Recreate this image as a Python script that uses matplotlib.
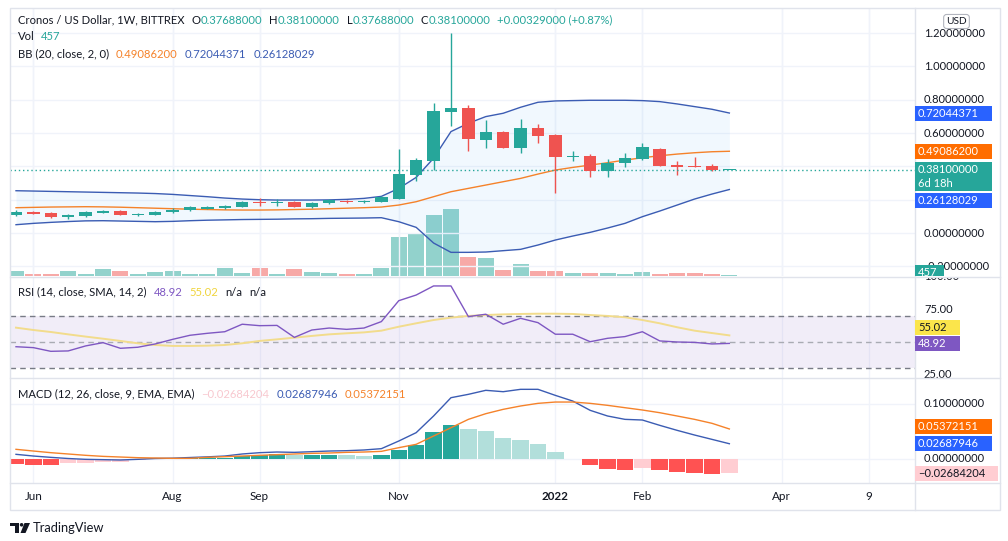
import matplotlib.pyplot as plt
import matplotlib.transforms as mtransforms
from matplotlib.patches import Rectangle, Polygon, Circle
from matplotlib.lines import Line2D

plt.rcParams['font.family'] = ['Lato', 'DejaVu Sans']

W, H = 1008, 541

# weekly bars, the first one is the week of 2021-05-31
opens = [0.110, 0.126, 0.120, 0.098, 0.102, 0.122, 0.134, 0.110, 0.110, 0.124,
         0.136, 0.146, 0.152, 0.158, 0.184, 0.180, 0.188, 0.158, 0.178, 0.194,
         0.184, 0.188, 0.204, 0.348, 0.434, 0.729, 0.751, 0.560, 0.607, 0.512,
         0.631, 0.587, 0.456, 0.462, 0.374, 0.422, 0.444, 0.505, 0.410, 0.404,
         0.402, 0.37688]
highs = [0.138, 0.132, 0.124, 0.114, 0.132, 0.136, 0.138, 0.118, 0.134, 0.148,
         0.160, 0.162, 0.168, 0.192, 0.212, 0.204, 0.192, 0.186, 0.204, 0.198,
         0.198, 0.222, 0.503, 0.452, 0.783, 1.203, 0.767, 0.679, 0.612, 0.685,
         0.655, 0.592, 0.492, 0.474, 0.444, 0.482, 0.542, 0.510, 0.432, 0.455,
         0.416, 0.381]
lows = [0.102, 0.112, 0.092, 0.082, 0.096, 0.118, 0.106, 0.102, 0.106, 0.118,
        0.130, 0.142, 0.146, 0.154, 0.162, 0.164, 0.154, 0.148, 0.172, 0.180,
        0.180, 0.184, 0.204, 0.314, 0.378, 0.643, 0.491, 0.512, 0.510, 0.482,
        0.542, 0.242, 0.434, 0.334, 0.338, 0.398, 0.440, 0.400, 0.348, 0.398,
        0.372, 0.37688]
closes = [0.128, 0.116, 0.098, 0.108, 0.126, 0.132, 0.110, 0.114, 0.126, 0.140,
          0.154, 0.158, 0.164, 0.186, 0.180, 0.186, 0.158, 0.178, 0.196, 0.184,
          0.194, 0.214, 0.354, 0.438, 0.733, 0.753, 0.563, 0.607, 0.512, 0.631,
          0.584, 0.458, 0.464, 0.374, 0.422, 0.450, 0.516, 0.404, 0.398, 0.398,
          0.3777, 0.381]
volumes = [2300, 900, 1000, 2200, 900, 3200, 2300, 900, 1800, 2300,
           900, 900, 3700, 1400, 3700, 900, 3200, 1800, 1400, 900,
           900, 3700, 17800, 19700, 27900, 30600, 8700, 8200, 2700, 5500,
           2300, 2300, 1400, 1400, 1400, 900, 1800, 900, 1400, 1400,
           900, 457]
bb_basis = [0.152, 0.154, 0.156, 0.157, 0.158, 0.157, 0.155, 0.152, 0.149, 0.146,
            0.143, 0.141, 0.139, 0.138, 0.138, 0.139, 0.141, 0.143, 0.146, 0.149,
            0.152, 0.156, 0.168, 0.188, 0.218, 0.248, 0.268, 0.288, 0.308, 0.328,
            0.354, 0.378, 0.394, 0.408, 0.422, 0.438, 0.452, 0.464, 0.474, 0.482,
            0.488, 0.490862]
bb_upper = [0.254, 0.252, 0.250, 0.248, 0.246, 0.244, 0.242, 0.240, 0.237, 0.232,
            0.225, 0.218, 0.210, 0.204, 0.200, 0.198, 0.198, 0.198, 0.199, 0.202,
            0.208, 0.220, 0.268, 0.334, 0.449, 0.609, 0.659, 0.699, 0.719, 0.755,
            0.785, 0.793, 0.795, 0.797, 0.797, 0.797, 0.795, 0.789, 0.775, 0.759,
            0.743, 0.72044371]
bb_lower = [0.050, 0.058, 0.064, 0.069, 0.073, 0.074, 0.072, 0.070, 0.068, 0.070,
            0.074, 0.077, 0.079, 0.081, 0.082, 0.083, 0.085, 0.086, 0.088, 0.089,
            0.090, 0.092, 0.068, 0.034, -0.060, -0.116, -0.116, -0.114, -0.106, -0.098,
            -0.072, -0.042, -0.018, 0.004, 0.030, 0.058, 0.098, 0.132, 0.168, 0.204,
            0.234, 0.26128029]
rsi = [46.4, 45.7, 42.9, 43.2, 47.0, 49.5, 45.2, 46.0, 48.5, 52.0,
       55.1, 56.6, 57.8, 63.5, 62.4, 62.6, 53.5, 59.1, 60.6, 59.6,
       60.6, 65.5, 81.4, 85.7, 92.6, 92.6, 69.3, 71.1, 63.5, 68.0,
       64.7, 55.9, 55.9, 50.2, 52.8, 54.1, 57.8, 50.8, 50.0, 49.7,
       48.5, 48.92]
rsi_ma = [60.9, 59.1, 57.6, 55.8, 54.1, 52.5, 50.8, 49.0, 47.7, 47.0,
          47.0, 47.2, 47.7, 49.0, 50.8, 52.0, 53.3, 54.6, 55.8, 56.6,
          57.3, 58.6, 61.6, 64.2, 66.7, 68.5, 69.8, 70.5, 71.0, 71.3,
          71.5, 71.5, 71.3, 70.5, 69.8, 68.8, 66.7, 64.2, 61.2, 58.6,
          56.8, 55.02]
macd = [0.0076, 0.0045, 0.0021, 0.0000, -0.0015, -0.0021, -0.0027, -0.0015, 0.0000, 0.0006,
        0.0018, 0.0030, 0.0045, 0.0082, 0.0106, 0.0118, 0.0112, 0.0124, 0.0136, 0.0142,
        0.0155, 0.0179, 0.0318, 0.0470, 0.0773, 0.1106, 0.1167, 0.1240, 0.1215, 0.1258,
        0.1258, 0.1148, 0.1045, 0.0876, 0.0773, 0.0712, 0.0700, 0.0603, 0.0512, 0.0427,
        0.0348, 0.02687946]
signal = [0.0167, 0.0136, 0.0106, 0.0082, 0.0058, 0.0039, 0.0027, 0.0015, 0.0009, 0.0003,
          0.0003, 0.0021, 0.0033, 0.0045, 0.0058, 0.0070, 0.0082, 0.0094, 0.0100, 0.0112,
          0.0118, 0.0130, 0.0197, 0.0258, 0.0409, 0.0560, 0.0712, 0.0815, 0.0894, 0.0955,
          0.1003, 0.1027, 0.1027, 0.1003, 0.0967, 0.0924, 0.0882, 0.0833, 0.0773, 0.0712,
          0.0640, 0.05372151]
hist = [-0.0100, -0.0110, -0.0120, -0.0090, -0.0080, -0.0070, -0.0060, -0.0030, -0.0010, 0.0002,
        0.0006, 0.0010, 0.0018, 0.0045, 0.0060, 0.0075, 0.0062, 0.0068, 0.0072, 0.0058,
        0.0052, 0.0065, 0.0152, 0.0242, 0.0479, 0.0618, 0.0545, 0.0497, 0.0376, 0.0333,
        0.0255, 0.0115, 0.0000, -0.0127, -0.0182, -0.0206, -0.0170, -0.0206, -0.0242, -0.0260,
        -0.0279, -0.02684204]

time_ticks = [1, 9, 14, 22, 31, 36, 44, 49]
time_labels = ['Jun', 'Aug', 'Sep', 'Nov', '2022', 'Feb', 'Apr', '9']
price_grid = [1.2, 1.0, 0.8, 0.6, 0.4, 0.2, 0.0, -0.2]
price_ticks = [1.2, 1.0, 0.8, 0.6, 0.0, -0.2]
rsi_ticks = [100, 75, 25]
macd_ticks = [0.1, 0.0]

TEXT = '#131722'
GRID = '#f0f3fa'
BORDER = '#e0e3eb'
UP, DOWN = '#26a69a', '#ef5350'
VOL_UP, VOL_DOWN = '#92d2cc', '#f7a9a7'
BB_BLUE, BB_ORANGE = '#3b5cb3', '#f5822a'
BOX_BLUE, BOX_ORANGE = '#2962ff', '#ff6d00'
RSI_C, RSI_MA_C = '#7e57c2', '#f2dc8c'
H_UP, H_UP_FADE, H_DN, H_DN_FADE = '#26a69a', '#b2dfdb', '#ff5252', '#ffcdd2'

X_LEFT, X_SPLIT, X_RIGHT = 10, 915, 1000
XLIM = (-0.345, 51.67)
n = len(closes)
x = list(range(n))

fig = plt.figure(figsize=(W / 100, H / 100), dpi=100)
fig.patch.set_facecolor('white')
PIX = mtransforms.IdentityTransform()


def fig_rect(x0, x1, top, bottom):
    return [x0 / W, 1 - bottom / H, (x1 - x0) / W, (bottom - top) / H]


def pane(top, bottom, ylim):
    ax = fig.add_axes(fig_rect(X_LEFT, X_SPLIT, top, bottom))
    ax.set_xlim(XLIM)
    ax.set_ylim(ylim)
    ax.patch.set_alpha(0)
    for s in ax.spines.values():
        s.set_visible(False)
    ax.set_xticks([])
    ax.set_yticks([])
    return ax


def scale(top, bottom, ylim):
    sax = fig.add_axes(fig_rect(X_SPLIT, X_RIGHT, top, bottom))
    sax.set_xlim(0, 1)
    sax.set_ylim(ylim)
    sax.axis('off')
    return sax


def tick_labels(sax, ticks, fmt):
    for t in ticks:
        sax.text(0.106, t, fmt % t, fontsize=8, color=TEXT, va='center',
                 ha='left', clip_on=True, zorder=2)


def value_box(sax, value, lines, fc, tc, width, dy=0, ref=None):
    # dy: shift in pixels, positive = down (TradingView pushes overlapping labels)
    ypix = (ref or sax).transData.transform((0, value))[1] - dy
    h = 15 + 14 * (len(lines) - 1)
    box = Rectangle((914, ypix + 7.5 - h), width, h, transform=PIX,
                    fc=fc, ec='none', zorder=5)
    box.set_clip_box(sax.bbox)
    fig.add_artist(box)
    for k, s in enumerate(lines):
        t = fig.text(918, ypix - 14 * k, s, transform=PIX, fontsize=8,
                     color=tc, va='center', ha='left', zorder=6)
        t.set_clip_box(sax.bbox)
        t.set_clip_on(True)


def legend_row(xpix, ypix, parts, size=8.1):
    r = fig.canvas.get_renderer()
    for s, c, gap in parts:
        xpix += gap
        t = fig.text(xpix, ypix, s, transform=PIX, fontsize=size, color=c,
                     va='center', ha='left', zorder=10)
        xpix += t.get_window_extent(renderer=r).width


# ---------------- main pane: volume + candles + BB ----------------
MAIN = (8, 276)
PRICE_LIM = (-0.258, 1.351)
VOL_LIM = (0, 121900)
vax = pane(*MAIN, VOL_LIM)
vcol = [VOL_UP if c >= o else VOL_DOWN for o, c in zip(opens, closes)]
vax.bar(x, volumes, width=0.92, color=vcol, zorder=1)

ax = pane(*MAIN, PRICE_LIM)
for g in price_grid:
    ax.axhline(g, color=GRID, lw=1, zorder=0)
for t in time_ticks:
    ax.axvline(t, color=GRID, lw=1, zorder=0)
    vax.axvline(t, color=GRID, lw=1, zorder=0)

ax.fill_between(x, bb_lower, bb_upper, color='#2196f3', alpha=0.06, lw=0, zorder=1)
ax.plot(x, bb_upper, color=BB_BLUE, lw=1, zorder=2)
ax.plot(x, bb_lower, color=BB_BLUE, lw=1, zorder=2)
ax.plot(x, bb_basis, color=BB_ORANGE, lw=1, zorder=2)

ccol = [UP if c >= o else DOWN for o, c in zip(opens, closes)]
ax.vlines(x, lows, highs, colors=ccol, lw=1, zorder=3)
body_lo = [min(o, c) for o, c in zip(opens, closes)]
body_h = [max(abs(c - o), 0.005) for o, c in zip(opens, closes)]
ax.bar(x, body_h, bottom=body_lo, width=0.72, color=ccol, zorder=4)
ax.axhline(closes[-1], color=UP, lw=1, ls=(0, (1, 2)), zorder=3)

sax = scale(*MAIN, PRICE_LIM)
tick_labels(sax, price_ticks, '%.8f')
value_box(sax, bb_upper[-1], ['%.8f' % bb_upper[-1]], BOX_BLUE, 'white', 78)
value_box(sax, bb_basis[-1], ['%.8f' % bb_basis[-1]], BOX_ORANGE, 'white', 78)
value_box(sax, closes[-1], ['%.8f' % closes[-1], '6d 18h'], UP, 'white', 78)
value_box(sax, bb_lower[-1], ['%.8f' % bb_lower[-1]], BOX_BLUE, 'white', 78, dy=11)
value_box(sax, volumes[-1], ['%d' % volumes[-1]], UP, 'white', 30, dy=-2, ref=vax)

# USD badge
fig.text(956.5, H - 21.5, 'USD', transform=PIX, fontsize=7.3, color=TEXT,
         ha='center', va='center', zorder=12,
         bbox=dict(boxstyle='round,pad=0.25,rounding_size=0.3', fc='white',
                   ec='#b2b5be', lw=0.8))

# ---------------- RSI pane ----------------
RSI_P = (277, 377.5)
RSI_LIM = (23.0, 99.4)
axr = pane(*RSI_P, RSI_LIM)
for t in time_ticks:
    axr.axvline(t, color=GRID, lw=1, zorder=0)
axr.axhspan(30, 70, color=RSI_C, alpha=0.1, lw=0, zorder=0)
axr.axhline(70, color='#787b86', lw=1, ls=(0, (4, 3)), zorder=1)
axr.axhline(30, color='#787b86', lw=1, ls=(0, (4, 3)), zorder=1)
axr.axhline(50, color='#a9abb3', lw=1, ls=(0, (4, 3)), zorder=1)
axr.plot(x, rsi_ma, color=RSI_MA_C, lw=1.4, zorder=2)
axr.plot(x, rsi, color=RSI_C, lw=1, zorder=3)

srsi = scale(*RSI_P, RSI_LIM)
tick_labels(srsi, rsi_ticks, '%.2f')
value_box(srsi, rsi_ma[-1], ['%.2f' % rsi_ma[-1]], '#fbe54b', TEXT, 46, dy=-8)
value_box(srsi, rsi[-1], ['%.2f' % rsi[-1]], RSI_C, 'white', 46)

# ---------------- MACD pane ----------------
MACD_P = (378.5, 482.7)
MACD_LIM = (-0.044, 0.1455)
axm = pane(*MACD_P, MACD_LIM)
for t in time_ticks:
    axm.axvline(t, color=GRID, lw=1, zorder=0)
for g in macd_ticks:
    axm.axhline(g, color=GRID, lw=1, zorder=0)
hcol = []
prev = None
for v in hist:
    if v >= 0:
        hcol.append(H_UP if prev is None or v >= prev else H_UP_FADE)
    else:
        hcol.append(H_DN if prev is None or v <= prev else H_DN_FADE)
    prev = v
axm.bar(x, hist, width=0.95, color=hcol, zorder=1)
axm.plot(x, macd, color=BB_BLUE, lw=1, zorder=2)
axm.plot(x, signal, color=BB_ORANGE, lw=1, zorder=2)

smacd = scale(*MACD_P, MACD_LIM)
tick_labels(smacd, macd_ticks, '%.8f')
value_box(smacd, signal[-1], ['%.8f' % signal[-1]], BOX_ORANGE, 'white', 78, dy=-2)
value_box(smacd, macd[-1], ['%.8f' % macd[-1]], BOX_BLUE, 'white', 78)
value_box(smacd, hist[-1], ['\u2212%.8f' % abs(hist[-1])], H_DN_FADE, TEXT, 84)

# ---------------- time axis ----------------
axt = pane(483.5, 509.5, (0, 1))
for t, lab in zip(time_ticks, time_labels):
    axt.text(t, 0.5, lab, ha='center', va='center', fontsize=8.4, color=TEXT,
             fontweight='bold' if lab == '2022' else 'normal')

# pane separators and outer frame
for yy in (276.5, 378, 483):
    fig.add_artist(Line2D([X_LEFT, X_RIGHT], [H - yy, H - yy], transform=PIX,
                          color=BORDER, lw=1))
fig.add_artist(Line2D([X_SPLIT, X_SPLIT], [H - 8, H - 509.5], transform=PIX,
                      color=BORDER, lw=1))
fig.add_artist(Rectangle((9.5, H - 509.5), X_RIGHT - 9.5, 501.5, transform=PIX,
                         fc='none', ec=BORDER, lw=1))

# legends
legend_row(18, H - 20, [('Cronos / US Dollar, 1W, BITTREX', TEXT, 0),
                        ('O', TEXT, 7), ('%.8f' % opens[-1], UP, 0),
                        ('H', TEXT, 7), ('%.8f' % highs[-1], UP, 0),
                        ('L', TEXT, 7), ('%.8f' % lows[-1], UP, 0),
                        ('C', TEXT, 7), ('%.8f' % closes[-1], UP, 0),
                        ('+0.00329000 (+0.87%)', UP, 7)])
legend_row(18, H - 37, [('Vol', TEXT, 0), ('%d' % volumes[-1], UP, 6)])
legend_row(18, H - 54, [('BB (20, close, 2, 0)', TEXT, 0),
                        ('%.8f' % bb_basis[-1], BB_ORANGE, 7),
                        ('%.8f' % bb_upper[-1], BB_BLUE, 7),
                        ('%.8f' % bb_lower[-1], BB_BLUE, 7)])
legend_row(18, H - 292, [('RSI (14, close, SMA, 14, 2)', TEXT, 0),
                         ('%.2f' % rsi[-1], RSI_C, 7),
                         ('%.2f' % rsi_ma[-1], '#f0d43c', 7),
                         ('n/a', TEXT, 7), ('n/a', TEXT, 7)])
legend_row(18, H - 394, [('MACD (12, 26, close, 9, EMA, EMA)', TEXT, 0),
                         ('\u2212%.8f' % abs(hist[-1]), '#f8c8cf', 7),
                         ('%.8f' % macd[-1], BB_BLUE, 7),
                         ('%.8f' % signal[-1], BB_ORANGE, 7)])

# TradingView logo + wordmark
for p in (Rectangle((10, H - 526), 9, 3.5), Rectangle((14.5, H - 533), 4.5, 10),
          Circle((21.6, H - 524.8), 1.8),
          Polygon([(24.5, H - 523), (30, H - 523), (25.5, H - 533), (20.5, H - 533)])):
    p.set_transform(PIX)
    p.set_facecolor(TEXT)
    p.set_edgecolor('none')
    fig.add_artist(p)
fig.text(33, H - 528, 'TradingView', transform=PIX, fontsize=9.3, color=TEXT,
         va='center', ha='left')

fig.savefig('out.png', dpi=100)
